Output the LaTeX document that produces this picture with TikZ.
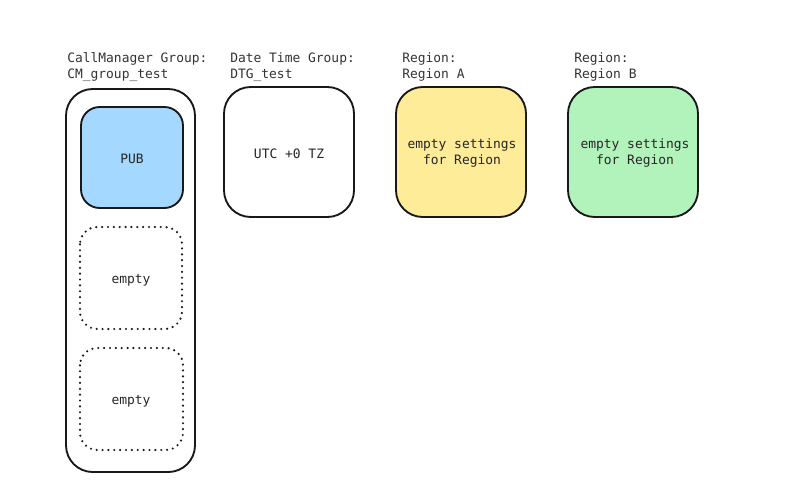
\documentclass[tikz,border=0pt]{standalone}
\usepackage{fontspec}
\setmonofont{DejaVu Sans Mono}
\begin{document}
\begin{tikzpicture}[x=0.75pt,y=-0.75pt,
  box/.style={draw=black!90,line width=1.4pt,rounded corners=14pt},
  dotbox/.style={draw=black!90,line width=1.8pt,rounded corners=13pt,dash pattern=on 0pt off 4.4pt,line cap=round},
  lbl/.style={font=\ttfamily\fontsize{9.7}{12}\selectfont,text=black!80,align=left,anchor=north west,inner sep=0pt},
  txt/.style={font=\ttfamily\fontsize{9.7}{12}\selectfont,text=black!85,align=center}]
\useasboundingbox (0,0) rectangle (795,493);
\definecolor{pubblue}{HTML}{A5D8FF}
\definecolor{regyellow}{HTML}{FFEC99}
\definecolor{reggreen}{HTML}{B2F2BB}
% labels
\node[lbl] (l1) at (67,52) {CallManager Group:\\CM\_group\_test};
\node[lbl] (l2) at (230,52) {Date Time Group:\\DTG\_test};
\node[lbl] (l3) at (402,52) {Region:\\Region A};
\node[lbl] (l4) at (574,52) {Region:\\Region B};
% CM group
\draw[box,rounded corners=20pt] (66,89) rectangle (195,472);
\draw[box,fill=pubblue] (81,107) rectangle (183,208);
\node[txt] (pub) at (132,159) {PUB};
\draw[dotbox] (80,227) rectangle (182,329);
\node[txt] (e1) at (131,280) {empty};
\draw[dotbox] (80,348) rectangle (183,450);
\node[txt] (e2) at (131,401) {empty};
% DTG
\draw[box,fill=white,rounded corners=20pt] (224,87) rectangle (354,217);
\node[txt] (utc) at (289,154) {UTC +0 TZ};
% Regions
\draw[box,fill=regyellow,rounded corners=20pt] (396,87) rectangle (526,217);
\node[txt] (ra) at (462,153) {empty settings\\for Region};
\draw[box,fill=reggreen,rounded corners=20pt] (568,87) rectangle (698,217);
\node[txt] (rb) at (635,153) {empty settings\\for Region};
\end{tikzpicture}
\end{document}
